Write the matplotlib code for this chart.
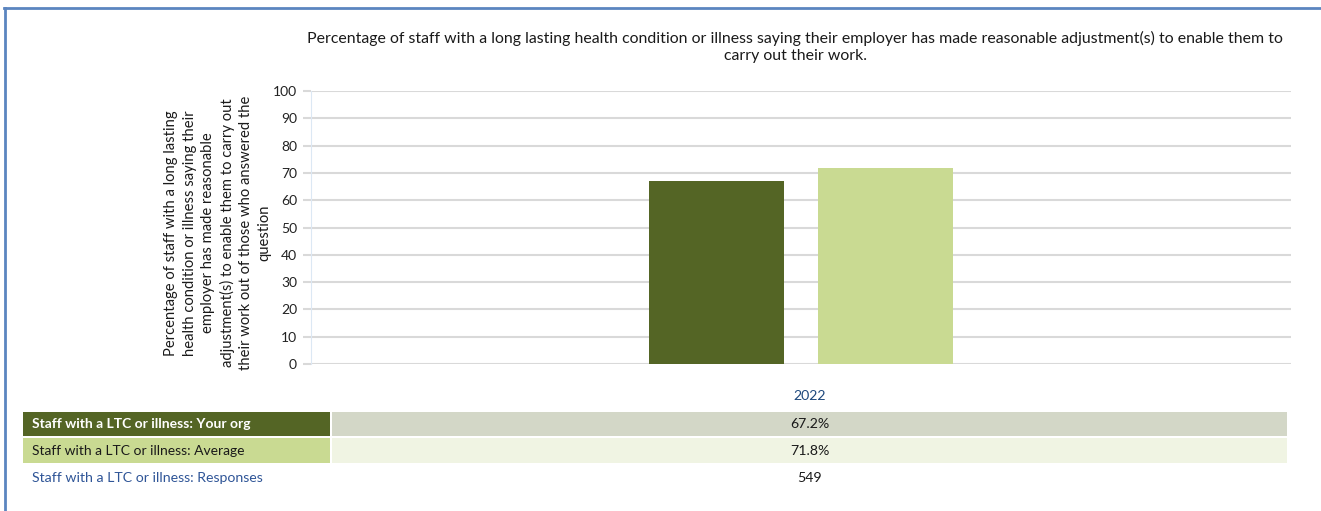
import matplotlib.pyplot as plt
from matplotlib.patches import Rectangle
from matplotlib.lines import Line2D

plt.rcParams['font.family'] = ['Lato', 'DejaVu Sans']

years = ["2022"]
series_names = ["Staff with a LTC or illness: Your org",
                "Staff with a LTC or illness: Average"]
series_values = [67.2, 71.8]
responses = [549]
bar_colors = ["#546525", "#C9DA92"]
value_bg = ["#D3D7C7", "#F0F4E3"]

title = ("Percentage of staff with a long lasting health condition or illness saying their employer "
         "has made reasonable adjustment(s) to enable them to\ncarry out their work.")
ylabel = ("Percentage of staff with a long lasting\nhealth condition or illness saying their\n"
          "employer has made reasonable\nadjustment(s) to enable them to carry out\n"
          "their work out of those who answered the\nquestion")

W, H = 1321, 511
fig = plt.figure(figsize=(W / 100, H / 100), dpi=100)


def fx(x):
    return x / W


def fy(y):
    return 1 - y / H


# outer frame
fig.add_artist(Line2D([fx(4), 1], [fy(8), fy(8)], color="#5B85C0", lw=2))
fig.add_artist(Line2D([fx(5), fx(5)], [fy(8), 0], color="#5B85C0", lw=2))

ax = fig.add_axes([fx(311), fy(364), fx(1291) - fx(311), fy(91) - fy(364)])
offsets = [-0.086, 0.086]
for i, (v, c) in enumerate(zip(series_values, bar_colors)):
    ax.bar(offsets[i], v, width=0.138, color=c, zorder=3)
ax.set_xlim(-0.5, 0.5)
ax.set_ylim(0, 100)
ax.set_yticks(range(0, 101, 10))
ax.set_xticks([])
ax.grid(axis="y", color="#D9D9D9", lw=1.5, zorder=0)
for s in ["top", "right", "bottom"]:
    ax.spines[s].set_visible(False)
ax.spines["left"].set_color("#DCE8F4")
ax.tick_params(axis="y", length=6, color="#D9D9D9", width=1.5, labelsize=10, pad=4,
               labelcolor="#222222")

fig.text(fx(795), fy(47), title, ha="center", va="center", fontsize=11.4,
         color="#1a1a1a", linespacing=1.3)
fig.text(fx(218), fy(233), ylabel, ha="center", va="center", rotation=90,
         fontsize=10.6, color="#1a1a1a", linespacing=1.4)

# data table below the chart
fig.text(fx(810), fy(396), years[0], ha="center", va="center", fontsize=10.2, color="#1F497D")
rows = [(412, 436), (438, 463)]
for i, (top, bot) in enumerate(rows):
    fig.add_artist(Rectangle((fx(23), fy(bot)), fx(330) - fx(23), fy(top) - fy(bot),
                             facecolor=bar_colors[i], edgecolor="none"))
    fig.add_artist(Rectangle((fx(332), fy(bot)), fx(1287) - fx(332), fy(top) - fy(bot),
                             facecolor=value_bg[i], edgecolor="none"))
    mid = fy((top + bot) / 2)
    fig.text(fx(32), mid, series_names[i], ha="left", va="center", fontsize=10,
             color="white" if i == 0 else "#1a1a1a", fontweight="bold" if i == 0 else "normal")
    fig.text(fx(810), mid, f"{series_values[i]:.1f}%", ha="center", va="center",
             fontsize=10.2, color="#1a1a1a")
fig.text(fx(32), fy(478), "Staff with a LTC or illness: Responses", ha="left", va="center",
         fontsize=10.2, color="#2F5597")
fig.text(fx(810), fy(478), str(responses[0]), ha="center", va="center", fontsize=10.2,
         color="#1a1a1a")

fig.savefig("out.png", dpi=100)
